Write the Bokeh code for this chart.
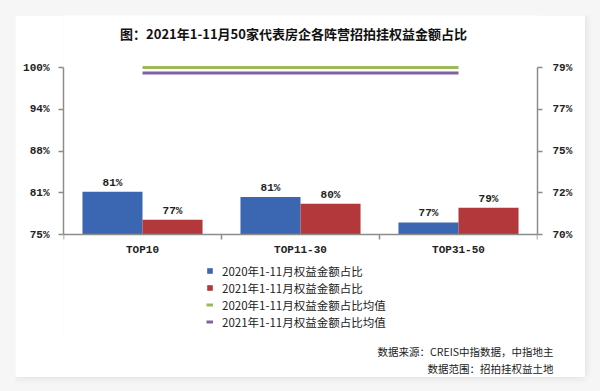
from bokeh.plotting import figure
from bokeh.models import (Range1d, LinearAxis, FixedTicker, Legend, LegendItem,
                          Title, Label, ColumnDataSource, LabelSet,
                          GlobalInlineStyleSheet)
from bokeh.core.properties import value
from bokeh.embed import file_html
from bokeh.resources import INLINE
from bokeh.transform import dodge

# ---- data ----
categories = ["TOP10", "TOP11-30", "TOP31-50"]
share_2020 = [81.4, 80.6, 76.8]
share_2021 = [77.2, 79.6, 79.0]
avg_2020 = [79.0, 79.0, 79.0]
avg_2021 = [78.7, 78.7, 78.7]
left_ticks = [75, 81.25, 87.5, 93.75, 100]
right_ticks = [70, 72.25, 74.5, 76.75, 79]

title_text = "图：2021年1-11月50家代表房企各阵营招拍挂权益金额占比"
legend_labels = ["2020年1-11月权益金额占比", "2021年1-11月权益金额占比",
                 "2020年1-11月权益金额占比均值", "2021年1-11月权益金额占比均值"]
note1 = "数据来源：CREIS中指数据，中指地主"
note2 = "数据范围：招拍挂权益土地"

BLUE = "#3b67b2"
RED = "#b2383b"
GREEN = "#9bbb59"
PURPLE = "#7f62a1"
AXIS = "#8c8c8c"
MONO = "Liberation Mono"
CJK = "Noto Sans CJK SC"

xs = [i + 0.5 for i in range(len(categories))]
src = ColumnDataSource(dict(
    x=xs, a=share_2020, b=share_2021,
    la=[f"{round(v)}%" for v in share_2020],
    lb=[f"{round(v)}%" for v in share_2021],
    m1=avg_2020, m2=avg_2021,
))

# ---- layout geometry (pixels) ----
W, H = 570, 362
BL, BR, BT, BB = 48, 48, 0, 36
FH = H - BT - BB
PAD_TOP = 52                # frame space above the 100% line (title lives here)
AX_H = 167                  # pixel height of the value axes
below = FH - PAD_TOP - AX_H

L_LO, L_HI = left_ticks[0], left_ticks[-1]
R_LO, R_HI = right_ticks[0], right_ticks[-1]
lpp = (L_HI - L_LO) / AX_H
rpp = (R_HI - R_LO) / AX_H

p = figure(width=W, height=H, output_backend="svg", toolbar_location=None,
           x_range=Range1d(0, len(categories)),
           y_range=Range1d(L_LO - below * lpp, L_HI + PAD_TOP * lpp),
           min_border_left=BL, min_border_right=BR, min_border_top=BT,
           min_border_bottom=BB, border_fill_color="white",
           background_fill_color="white", outline_line_color=None,
           title=None)
p.xgrid.visible = False
p.ygrid.visible = False
p.extra_y_ranges = {"right": Range1d(R_LO - below * rpp, R_HI + PAD_TOP * rpp)}

bw = 0.38
r1 = p.vbar(x=dodge("x", -0.19), top="a", bottom=L_LO, width=bw, source=src,
            fill_color=BLUE, line_color=None)
r2 = p.vbar(x=dodge("x", 0.19), top="b", bottom=L_LO, width=bw, source=src,
            fill_color=RED, line_color=None)
r3 = p.line(x="x", y="m1", source=src, line_color=GREEN, line_width=3,
            y_range_name="right")
r4 = p.line(x="x", y="m2", source=src, line_color=PURPLE, line_width=3,
            y_range_name="right")

lab_a = LabelSet(x=dodge("x", -0.19), y="a", text="la", source=src,
                 text_align="center", text_baseline="bottom", y_offset=3,
                 text_font=value(MONO), text_font_size="11px",
                 text_font_style="bold", text_color="#222222")
lab_b = LabelSet(x=dodge("x", 0.19), y="b", text="lb", source=src,
                 text_align="center", text_baseline="bottom", y_offset=3,
                 text_font=value(MONO), text_font_size="11px",
                 text_font_style="bold", text_color="#222222")
p.add_layout(lab_a)
p.add_layout(lab_b)

def style_axis(ax):
    ax.axis_line_color = AXIS
    ax.axis_line_width = 1.5
    ax.major_tick_line_color = AXIS
    ax.major_tick_line_width = 1.5
    ax.minor_tick_line_color = AXIS
    ax.minor_tick_line_width = 1.5
    ax.major_label_text_font = MONO
    ax.major_label_text_font_size = "11px"
    ax.major_label_text_font_style = "bold"
    ax.major_label_text_color = "#222222"
    ax.major_tick_in = 0
    ax.major_tick_out = 5

# bottom axis, pinned to the 75% baseline
xa = p.xaxis[0]
xa.fixed_location = L_LO
xa.ticker = FixedTicker(ticks=xs, minor_ticks=list(range(len(categories) + 1)))
xa.major_label_overrides = {x: c for x, c in zip(xs, categories)}
style_axis(xa)
xa.major_tick_out = 0
xa.minor_tick_in = 0
xa.minor_tick_out = 5
xa.major_label_standoff = 4

# left axis
ya = p.yaxis[0]
ya.bounds = (L_LO, L_HI)
ya.ticker = FixedTicker(ticks=left_ticks, minor_ticks=[])
ya.major_label_overrides = {t: f"{round(t + 1e-9)}%" for t in left_ticks}
style_axis(ya)
ya.major_label_standoff = 9

# right axis
ra = LinearAxis(y_range_name="right", bounds=(R_LO, R_HI),
                ticker=FixedTicker(ticks=right_ticks, minor_ticks=[]))
ra.major_label_overrides = {t: f"{round(t + 1e-9)}%" for t in right_ticks}
style_axis(ra)
ra.major_label_standoff = 10
p.add_layout(ra, "right")

# legend (inside the frame, below the axis)
legend = Legend(items=[LegendItem(label=legend_labels[0], renderers=[r1]),
                       LegendItem(label=legend_labels[1], renderers=[r2]),
                       LegendItem(label=legend_labels[2], renderers=[r3]),
                       LegendItem(label=legend_labels[3], renderers=[r4])],
                location=(143, 11), orientation="vertical",
                glyph_width=7, glyph_height=7, label_standoff=9,
                label_height=17, spacing=0, padding=0, margin=0,
                border_line_color=None, background_fill_alpha=0,
                label_text_font=CJK, label_text_font_size="11.5px",
                label_text_color="#222222")
p.add_layout(legend, "center")

# title (inside the frame's top space)
tt = Label(x=230, y=FH - 18, x_units="screen", y_units="screen",
           text=title_text, text_align="center", text_baseline="middle",
           text_font=CJK, text_font_size="13px", text_font_style="bold",
           text_color="#111111")
p.add_layout(tt)

# notes below the frame
t1 = Title(text=note1, align="right", offset=-16, standoff=0,
           text_font=CJK, text_font_size="10.5px", text_font_style="normal",
           text_color="#222222")
t2 = Title(text=note2, align="right", offset=-16, standoff=0,
           text_font=CJK, text_font_size="10.5px", text_font_style="normal",
           text_color="#222222")
p.add_layout(t1, "below")
p.add_layout(t2, "below")

p.styles = {"box-shadow": "0 0 8px rgba(0,0,0,0.12)"}
p.stylesheets = [GlobalInlineStyleSheet(
    css="body{background:#f6f6f6; margin:15px 0 0 15px;}")]

open("out.html", "w").write(file_html(p, INLINE))
